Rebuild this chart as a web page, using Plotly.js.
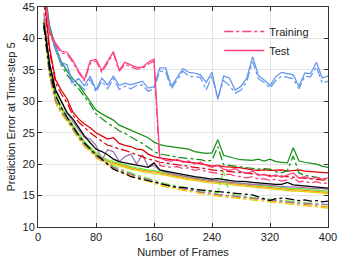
<!DOCTYPE html>
<html>
<head>
<meta charset="utf-8">
<script src="https://cdn.plot.ly/plotly-3.0.1.min.js"></script>
<style>html,body{margin:0;padding:0;background:#fff}#chart{width:339px;height:263px}</style>
</head>
<body>
<div id="chart"></div>
<script>
var frames = [8,16,24,32,40,48,56,64,72,80,88,96,104,112,120,128,136,144,152,160,168,176,184,192,200,208,216,224,232,240,248,256,264,272,280,288,296,304,312,320,328,336,344,352,360,368,376,384,392,400];

var pinkTest = [48,41,39.3,38.0,37.8,36.5,34.8,33.4,36.4,36.7,34.9,36.4,37.9,35.0,36.2,35.8,35.4,35.4,36.2,36.7,21.0,20.6,20.5,20.8,20.3,20.5,20.0,20.3,19.8,19.5,19.8,19.2,19.0,19.3,18.8,18.5,18.9,18.2,18.4,18.0,18.3,17.9,18.2,18.6,17.8,18.0,17.7,17.9,17.6,17.8];
var pinkTrain = [47.5,40.7,39.0,37.7,37.5,36.2,34.6,33.2,36.0,36.4,34.6,36.0,37.6,34.8,35.9,35.5,35.1,35.2,35.9,36.4,19.8,19.6,19.5,19.6,19.3,19.4,19.0,19.2,18.8,18.7,18.5,18.3,18.4,18.1,18.0,17.8,18.0,17.6,17.7,17.4,17.6,17.3,17.5,17.8,17.2,17.3,17.0,17.2,16.9,17.0];
var blueTest = [48,41.5,38.6,36.2,35.8,33.0,33.6,32.5,34.0,31.8,33.7,32.6,34.0,32.5,32.9,32.6,32.9,33.2,32.1,32.3,35.3,35.3,32.4,33.7,35.2,34.6,34.5,34.2,33.0,34.6,30.3,34.0,33.7,31.8,32.4,33.7,37.1,34.1,33.4,32.5,33.9,34.6,34.4,34.2,32.4,34.5,34.4,36.2,33.7,34.0];
var blueTrain = [47.5,41.0,38.2,35.8,35.3,32.5,32.8,31.8,33.5,31.5,33.2,32.0,33.6,31.9,32.4,32.0,32.5,32.6,31.6,32.0,34.8,34.7,32.0,33.3,34.8,34.0,33.9,33.8,31.8,34.0,30.6,33.3,32.5,31.3,31.8,33.2,36.3,33.6,33.0,32.1,33.3,34.0,33.8,33.6,32.0,34.0,33.9,35.5,32.9,33.2];
var greenTest = [49,42,38.8,36.3,34.8,33.6,32.6,31.3,30.0,28.6,28.0,27.5,27.0,26.2,25.8,25.3,25.0,24.6,24.2,23.5,23.1,22.9,22.8,22.6,22.6,22.4,22.0,21.9,21.7,21.8,23.9,21.4,21.1,20.9,20.7,20.6,20.6,20.8,20.5,20.8,20.4,20.3,20.2,22.6,20.5,20.3,20.2,20.0,19.7,19.5];
var greenTrain = [48,41.5,38.3,35.8,34.2,33.0,32.0,30.8,29.5,28.0,27.2,26.5,26.0,25.3,24.9,24.3,23.8,23.3,22.7,22.0,21.6,21.5,21.3,21.1,21.0,21.0,20.8,20.7,20.5,20.6,22.8,19.9,19.8,19.7,19.6,19.5,19.3,19.2,19.3,19.2,18.8,18.6,19.0,21.3,18.6,18.2,18.1,17.9,17.7,17.5];
var redTest = [47,38.5,33.5,31.8,30.4,28.3,27.2,26.4,25.8,25.0,24.5,24.0,24.2,23.3,23.0,22.8,22.4,22.3,21.6,21.2,21.0,20.8,20.7,20.6,20.4,20.3,20.2,20.1,19.9,19.7,19.8,19.6,19.6,19.5,19.4,19.2,19.1,19.0,19.1,19.0,19.0,19.1,18.9,19.0,19.1,18.9,18.8,18.8,18.7,18.6];
var redTrain = [46,38,33,31.2,29.8,27.8,26.7,25.8,25.0,24.3,23.7,23.0,22.8,22.4,22.2,21.8,21.5,21.2,20.8,20.6,20.3,20.2,20.0,19.9,19.8,19.6,19.5,19.4,19.2,19.1,19.0,18.9,18.8,18.8,18.7,18.5,18.4,18.3,18.3,18.2,18.1,18.1,18.0,17.9,17.9,17.8,17.7,17.6,17.5,17.4];
var blackTest = [42.5,36,31.8,30.0,28.2,27.2,25.8,24.5,23.4,22.4,22.0,21.5,20.8,20.4,20.2,20.0,19.8,19.7,19.5,20.2,19.1,18.9,18.7,18.6,18.4,18.1,18.0,17.9,17.8,17.6,17.7,17.5,17.4,17.3,17.3,17.2,17.1,17.0,17.0,16.9,16.8,16.8,17.1,16.7,16.6,16.6,16.5,16.4,16.3,16.2];
var blackTrain = [42,35,31,29.0,27.5,26.0,24.6,23.4,22.5,21.5,20.8,20.0,19.2,18.8,18.5,18.0,17.8,17.6,17.3,17.1,16.9,16.7,16.5,16.3,16.3,16.1,16.0,15.9,15.8,15.8,15.7,15.6,15.5,15.4,15.3,15.2,15.1,14.8,14.5,14.2,14.5,14.6,14.5,14.3,14.2,14.3,14.1,14.2,14.0,14.1];
var purpleTest = [44,36,32,30.0,28.2,26.8,25.4,24.2,24.0,23.0,20.6,22.3,22.0,20.4,21.2,21.6,20.0,21.5,19.6,19.8,19.0,18.7,18.5,18.3,18.1,17.9,17.8,17.6,17.5,17.4,17.3,17.2,17.1,17.0,17.0,16.9,16.8,16.8,16.7,16.6,16.6,16.5,16.4,16.4,16.3,16.3,16.2,16.1,16.1,16.0];
var purpleTrain = [42,34.2,30.2,28.4,27.1,25.6,24.3,23.1,22.3,21.3,20.7,20.1,19.5,19.1,18.7,18.4,18.1,17.8,17.5,17.2,17.0,16.7,16.5,16.3,16.1,16.0,15.8,15.6,15.5,15.3,15.2,15.1,15.0,14.9,14.7,14.6,14.5,14.4,14.3,14.2,14.1,14.0,13.9,13.9,13.8,13.7,13.7,13.6,13.6,13.6];
var orangeTest = [43,35,31,29,27.4,26.0,24.6,23.4,22.5,21.6,21.0,20.5,20.2,19.9,19.6,19.4,19.2,19.0,18.9,18.8,18.6,18.4,18.2,18.0,17.9,17.7,17.6,17.4,17.3,17.2,17.1,17.0,16.9,16.8,16.7,16.6,16.5,16.4,16.3,16.2,16.1,16.0,16.0,15.9,15.9,15.8,15.7,15.7,15.6,15.5];
var orangeTrain = [42,34,30,28.2,27.0,25.5,24.2,23.0,22.2,21.2,20.6,20.0,19.4,19.0,18.6,18.3,18.0,17.7,17.4,17.1,16.9,16.6,16.4,16.2,16.0,15.9,15.7,15.5,15.4,15.2,15.1,15.0,14.9,14.8,14.6,14.5,14.4,14.3,14.2,14.1,14.0,13.9,13.8,13.8,13.7,13.6,13.5,13.4,13.3,13.2];
var yellowTest = [42.8,34.8,30.8,28.8,27.2,25.8,24.4,23.2,22.3,21.4,20.8,20.3,20.0,19.7,19.4,19.2,19.0,18.8,18.7,18.5,18.4,18.2,18.0,17.8,17.7,17.5,17.4,17.2,17.1,17.0,16.9,16.8,16.7,16.6,16.5,16.4,16.3,16.2,16.1,16.0,15.9,15.8,15.8,15.7,15.7,15.6,15.5,15.5,15.4,15.3];
var yellowTrain = [41.8,33.8,29.8,28.0,26.8,25.3,24.0,22.8,22.0,21.0,20.4,19.8,19.2,18.8,18.4,18.1,17.8,17.5,17.2,16.9,16.7,16.4,16.2,16.0,15.8,15.7,15.5,15.3,15.2,15.0,14.9,14.8,14.7,14.6,14.4,14.3,14.2,14.1,14.0,13.9,13.8,13.7,13.6,13.6,13.5,13.4,13.3,13.2,13.1,13.0];
var limeTest = [43.2,35.2,31.2,29.2,27.6,26.2,24.8,23.6,22.7,21.8,21.2,20.7,20.4,20.1,19.8,19.6,19.4,19.2,19.1,19.0,18.8,18.6,18.4,18.2,18.1,17.9,17.8,17.6,17.5,17.4,17.3,17.2,17.1,17.0,16.9,16.8,16.7,16.6,16.5,16.4,16.3,16.2,16.2,16.1,16.1,16.0,15.9,15.9,15.8,15.7];
var limeTrain = [42.2,34.3,30.3,28.5,27.3,25.8,24.5,23.3,22.5,21.5,20.9,20.3,19.7,19.3,18.9,18.6,18.3,18.0,17.7,17.4,17.2,16.9,16.7,16.5,16.3,16.2,16.0,15.8,15.7,15.5,15.4,19.0,15.2,15.1,14.9,14.8,14.7,14.6,14.5,14.4,14.3,14.2,14.1,14.1,14.0,13.9,13.8,13.7,13.6,13.5];

var legendLabels = ['Training', 'Test'];

var series = [
  {test: orangeTest, train: orangeTrain, color: '#ff8c1a'},
  {test: yellowTest, train: yellowTrain, color: '#e6cf00'},
  {test: limeTest, train: limeTrain, color: '#66ee33'},
  {test: purpleTest, train: purpleTrain, color: '#a070b0'},
  {test: blackTest, train: blackTrain, color: '#000000'},
  {test: redTest, train: redTrain, color: '#dd0000'},
  {test: greenTest, train: greenTrain, color: '#159015'},
  {test: blueTest, train: blueTrain, color: '#6495ed'},
  {test: pinkTest, train: pinkTrain, color: '#ff3d7f'}
];

var lw = 1.25;
var traces = [];
series.forEach(function (s) {
  traces.push({x: frames, y: s.train, mode: 'lines', showlegend: false, hoverinfo: 'skip',
    line: {color: s.color, width: lw, dash: 'dashdot'}});
  traces.push({x: frames, y: s.test, mode: 'lines', showlegend: false, hoverinfo: 'skip',
    line: {color: s.color, width: lw, dash: 'solid'}});
});
traces.push({x: [null], y: [null], mode: 'lines', name: legendLabels[0], line: {color: '#ff3d7f', width: 1.5, dash: 'dashdot'}});
traces.push({x: [null], y: [null], mode: 'lines', name: legendLabels[1], line: {color: '#ff3d7f', width: 1.5, dash: 'solid'}});

var axisCommon = {
  showline: true, linecolor: '#333', linewidth: 1, mirror: 'allticks',
  ticks: 'inside', ticklen: 4, tickcolor: '#333',
  showgrid: true, gridcolor: '#e3e3e3', gridwidth: 1, zeroline: false,
  tickfont: {size: 11, color: '#222'}
};

var layout = {
  width: 339, height: 263,
  margin: {l: 38, r: 11, t: 7, b: 36},
  paper_bgcolor: '#fff', plot_bgcolor: '#fff',
  font: {family: 'Liberation Sans, Arial, sans-serif', size: 11, color: '#222'},
  showlegend: true,
  legend: {x: 0.625, y: 0.955, xanchor: 'left', yanchor: 'top', bgcolor: 'rgba(0,0,0,0)',
    font: {size: 11, color: '#222'}, tracegroupgap: 0, itemwidth: 40},
  xaxis: Object.assign({}, axisCommon, {range: [0, 400], tickvals: [0, 80, 160, 240, 320, 400],
    title: {text: 'Number of Frames', font: {size: 11}, standoff: 6}}),
  yaxis: Object.assign({}, axisCommon, {range: [10, 45], tickvals: [10, 15, 20, 25, 30, 35, 40, 45],
    title: {text: 'Prediction Error at Time-step 5', font: {size: 11}, standoff: 4}})
};

Plotly.newPlot('chart', traces, layout, {staticPlot: true, displayModeBar: false});
</script>
</body>
</html>
